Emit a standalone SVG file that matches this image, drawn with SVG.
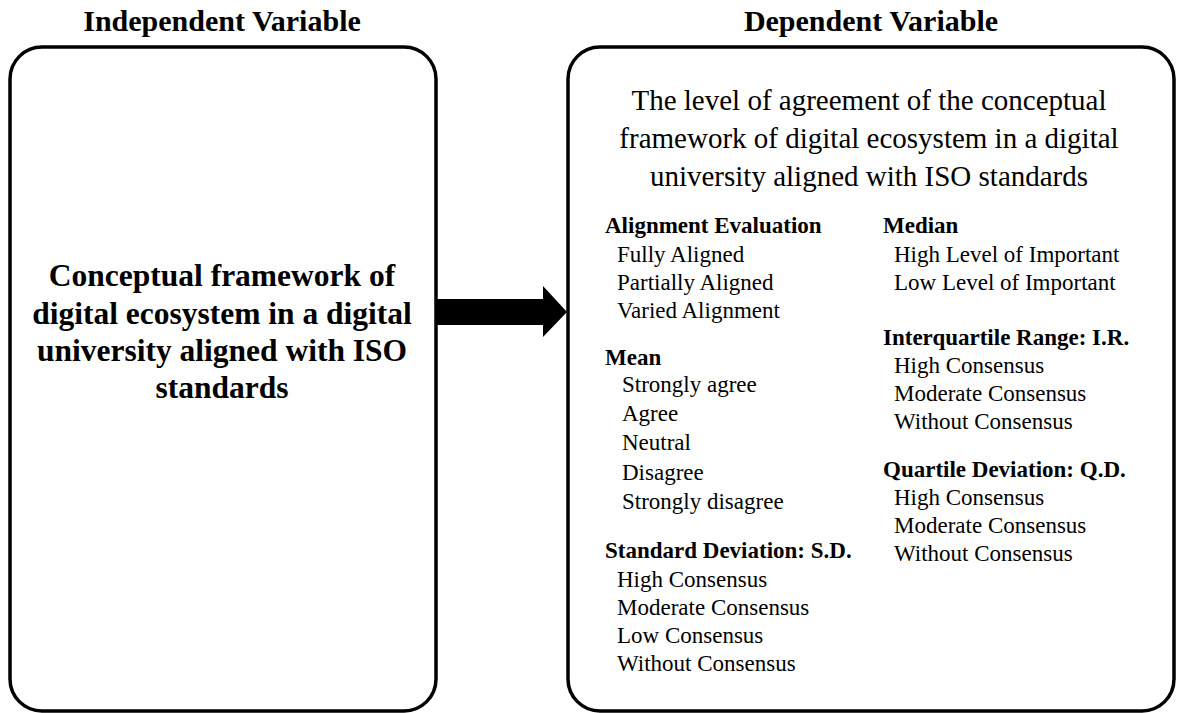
<svg xmlns="http://www.w3.org/2000/svg" width="1177" height="713" viewBox="0 0 1177 713">
<style>
.box{fill:#fff;stroke:#000;stroke-width:3.5}
.title{font-family:"Liberation Serif","Times New Roman",serif;font-weight:bold;font-size:30px;text-anchor:middle;fill:#000}
.main{font-family:"Liberation Serif","Times New Roman",serif;font-weight:bold;font-size:31.5px;text-anchor:middle;fill:#000}
.head{font-family:"Liberation Serif","Times New Roman",serif;font-size:29px;text-anchor:middle;fill:#000}
.h{font-family:"Liberation Serif","Times New Roman",serif;font-weight:bold;font-size:23px;fill:#000}
.i{font-family:"Liberation Serif","Times New Roman",serif;font-size:23px;fill:#000}
</style>
<rect width="1177" height="713" fill="#fff"/>
<g id="independent">
<text class="title" x="222" y="31">Independent Variable</text>
<rect class="box" x="10" y="47" width="426" height="664" rx="32"/>
<text class="main" x="222" y="286">Conceptual framework of</text>
<text class="main" x="222" y="324">digital ecosystem in a digital</text>
<text class="main" x="222" y="361">university aligned with ISO</text>
<text class="main" x="222" y="398">standards</text>
</g>
<g id="dependent">
<text class="title" x="871" y="31">Dependent Variable</text>
<rect class="box" x="568" y="47" width="606" height="664" rx="32"/>
<text class="head" x="869" y="110">The level of agreement of the conceptual</text>
<text class="head" x="869" y="148">framework of digital ecosystem in a digital</text>
<text class="head" x="869" y="186">university aligned with ISO standards</text>
<text class="h" x="605" y="233">Alignment Evaluation</text>
<text class="i" x="617" y="262">Fully Aligned</text>
<text class="i" x="617" y="290">Partially Aligned</text>
<text class="i" x="617" y="318">Varied Alignment</text>
<text class="h" x="605" y="365">Mean</text>
<text class="i" x="622" y="392">Strongly agree</text>
<text class="i" x="622" y="421">Agree</text>
<text class="i" x="622" y="450">Neutral</text>
<text class="i" x="622" y="480">Disagree</text>
<text class="i" x="622" y="509">Strongly disagree</text>
<text class="h" x="605" y="558">Standard Deviation: S.D.</text>
<text class="i" x="617" y="587">High Consensus</text>
<text class="i" x="617" y="615">Moderate Consensus</text>
<text class="i" x="617" y="643">Low Consensus</text>
<text class="i" x="617" y="671">Without Consensus</text>
<text class="h" x="883" y="233">Median</text>
<text class="i" x="894" y="262">High Level of Important</text>
<text class="i" x="894" y="290">Low Level of Important</text>
<text class="h" x="883" y="345">Interquartile Range: I.R.</text>
<text class="i" x="894" y="373">High Consensus</text>
<text class="i" x="894" y="401">Moderate Consensus</text>
<text class="i" x="894" y="429">Without Consensus</text>
<text class="h" x="883" y="477">Quartile Deviation: Q.D.</text>
<text class="i" x="894" y="505">High Consensus</text>
<text class="i" x="894" y="533">Moderate Consensus</text>
<text class="i" x="894" y="561">Without Consensus</text>
</g>
<g id="connectors">
<polygon points="437,299 543,299 543,286 567,312 543,337 543,325 437,325" fill="#000"/>
</g>
</svg>
